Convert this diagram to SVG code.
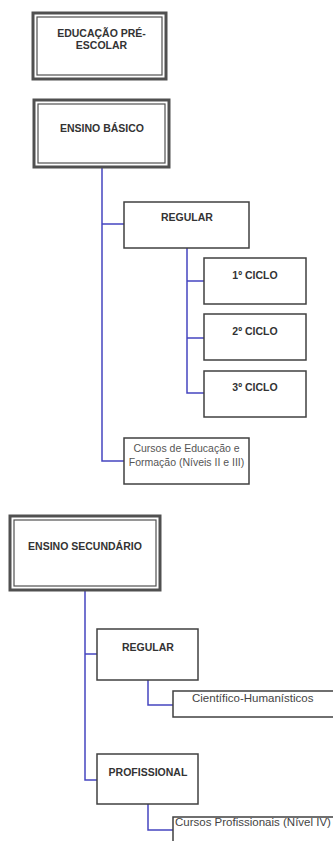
<svg xmlns="http://www.w3.org/2000/svg" width="333" height="841" viewBox="0 0 333 841">
<style>
.outer{fill:#fff;stroke:#505050;stroke-width:3}
.inner{fill:none;stroke:#505050;stroke-width:1.2}
.box{fill:#fff;stroke:#404040;stroke-width:1.5}
.b{font-family:"Liberation Sans",Arial,sans-serif;font-weight:bold;font-size:10.5px;fill:#333;text-anchor:middle}
.n{font-family:"Liberation Sans",Arial,sans-serif;font-size:10.5px;fill:#555;text-anchor:middle}
.s{font-family:"Liberation Sans",Arial,sans-serif;font-size:11.5px;fill:#444}
.c{fill:none;stroke:#4545c0;stroke-width:1.5}
</style>
<rect width="333" height="841" fill="#fff"/>
<g id="connectors">
<polyline class="c" points="102,168 102,461 124,461"/>
<line class="c" x1="102" y1="224" x2="124" y2="224"/>
<polyline class="c" points="187,248 187,393 204,393"/>
<line class="c" x1="187" y1="281" x2="204" y2="281"/>
<line class="c" x1="187" y1="338" x2="204" y2="338"/>
<polyline class="c" points="85,591 85,780 97,780"/>
<line class="c" x1="85" y1="654" x2="97" y2="654"/>
<polyline class="c" points="148,680 148,705 173,705"/>
<polyline class="c" points="148,804 148,830 173,830"/>
</g>
<g id="pre-escolar">
<rect class="outer" x="33" y="13" width="133" height="66"/>
<rect class="inner" x="37" y="17" width="125" height="58"/>
<text class="b" x="101.5" y="37">EDUCAÇÃO PRÉ-</text>
<text class="b" x="101.5" y="49">ESCOLAR</text>
</g>
<g id="ensino-basico">
<rect class="outer" x="34" y="100" width="135" height="67"/>
<rect class="inner" x="38" y="104" width="127" height="59"/>
<text class="b" x="102" y="132">ENSINO BÁSICO</text>
</g>
<g id="regular-basico">
<rect class="box" x="124" y="202" width="125" height="46"/>
<text class="b" x="187" y="221">REGULAR</text>
</g>
<g id="ciclo1">
<rect class="box" x="204" y="258" width="102" height="46"/>
<text class="b" x="255" y="279">1º CICLO</text>
</g>
<g id="ciclo2">
<rect class="box" x="204" y="314" width="102" height="46"/>
<text class="b" x="255" y="335">2º CICLO</text>
</g>
<g id="ciclo3">
<rect class="box" x="204" y="371" width="102" height="46"/>
<text class="b" x="255" y="391">3º CICLO</text>
</g>
<g id="cursos-educacao">
<rect class="box" x="124" y="438" width="125" height="46"/>
<text class="n" x="186.5" y="452">Cursos de Educação e</text>
<text class="n" x="186.5" y="466">Formação (Níveis II e III)</text>
</g>
<g id="ensino-secundario">
<rect class="outer" x="10" y="516" width="150" height="74"/>
<rect class="inner" x="14" y="520" width="142" height="66"/>
<text class="b" x="85" y="550">ENSINO SECUNDÁRIO</text>
</g>
<g id="regular-secundario">
<rect class="box" x="97" y="629" width="101" height="51"/>
<text class="b" x="148" y="651">REGULAR</text>
</g>
<g id="cientifico">
<rect class="box" x="173" y="691" width="170" height="26"/>
<text class="s" x="192" y="702">Científico-Humanísticos</text>
</g>
<g id="profissional">
<rect class="box" x="97" y="754" width="101" height="50"/>
<text class="b" x="148" y="776">PROFISSIONAL</text>
</g>
<g id="cursos-profissionais">
<rect class="box" x="173" y="817" width="170" height="40"/>
<text class="s" x="175" y="826">Cursos Profissionais (Nível IV)</text>
</g>
</svg>
